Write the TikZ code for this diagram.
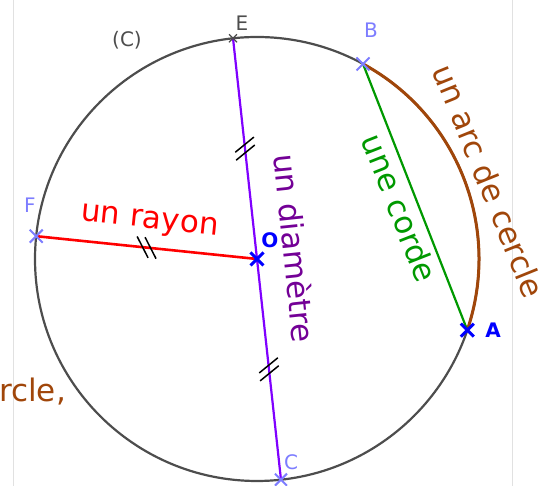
\documentclass[tikz,border=0pt]{standalone}
\usepackage{fontspec}
\setmainfont{DejaVu Sans}
\usetikzlibrary{calc}
\definecolor{circgray}{RGB}{77,77,77}
\definecolor{arcbrown}{RGB}{160,70,10}
\definecolor{chordgreen}{RGB}{0,153,0}
\definecolor{diamviolet}{RGB}{127,0,255}
\definecolor{diamtext}{RGB}{115,0,150}
\definecolor{radred}{RGB}{255,0,0}
\definecolor{ptlight}{RGB}{125,125,255}
\definecolor{ptblue}{RGB}{0,0,255}
\definecolor{edgegray}{RGB}{225,225,225}
\newcommand{\twoticks}[2]{%
  \path ($(#1)!0.5!(#2)$) coordinate (tkm);
  \foreach \s in {-4,4} {
    \path ($(tkm)!\s pt!(#2)$) coordinate (tkc);
    \draw[tickline] ($(tkc)!12pt!-57:(#2)$) -- ($(tkc)!12pt!123:(#2)$);
  }}
\newcommand{\xcross}[3]{% coordinate, half size, style
  \draw[#3] ($(#1)+(-#2,-#2)$) -- ($(#1)+(#2,#2)$)
            ($(#1)+(-#2,#2)$) -- ($(#1)+(#2,-#2)$);}
\begin{document}
\begin{tikzpicture}[x=1pt,y=1pt,
  circ/.style={draw=circgray, line width=2.2pt},
  arcline/.style={draw=arcbrown, line width=3pt},
  chordline/.style={draw=chordgreen, line width=2.2pt},
  diamline/.style={draw=diamviolet, line width=2.2pt},
  radline/.style={draw=radred, line width=2.6pt},
  tickline/.style={draw=black, line width=1.5pt},
  lightpt/.style={draw=ptlight, line width=2pt},
  bluept/.style={draw=ptblue, line width=3pt},
  graypt/.style={draw=circgray, line width=1.2pt},
  bigtext/.style={font=\fontsize{31}{37}\selectfont, inner sep=0pt},
  lbl/.style={font=\fontsize{20}{24}\selectfont, inner sep=0pt},
  lblb/.style={font=\fontsize{20}{24}\selectfont\bfseries, inner sep=0pt},
  edge/.style={draw=edgegray, line width=1pt}]
\useasboundingbox (0,0) rectangle (550,486);
% faint page edges
\coordinate (L1) at (13,0); \coordinate (L2) at (13,486);
\coordinate (R1) at (512,0); \coordinate (R2) at (512,486);
\draw[edge] (L1) -- (L2);
\draw[edge] (R1) -- (R2);
% points
\coordinate (O) at (257,227);
\coordinate (A) at ($(O)+(-18.68:222)$);
\coordinate (B) at ($(O)+(61.47:222)$);
\coordinate (E) at ($(O)+(96.2:222)$);
\coordinate (C) at ($(O)+(-83.8:222)$);
\coordinate (F) at ($(O)+(174.1:222)$);
% circle and arc
\draw[circ] (O) circle[radius=222];
\draw[arcline] (A) arc[start angle=-18.68, end angle=61.47, radius=222];
% segments
\draw[chordline] (B) -- (A);
\draw[diamline] (E) -- (C);
\draw[radline] (F) -- (O);
% equal-length ticks
\twoticks{F}{O}
\twoticks{E}{O}
\twoticks{C}{O}
% crosses
\xcross{F}{6.5}{lightpt}
\xcross{B}{6.5}{lightpt}
\xcross{C}{6}{lightpt}
\xcross{E}{4}{graypt}
\xcross{O}{6.5}{bluept}
\xcross{A}{6.5}{bluept}
% point labels
\node[lbl, text=circgray] (lE) at (242,463) {E};
\node[lbl, text=ptlight] (lB) at (371,456) {B};
\node[lbl, text=ptlight] (lF) at (30,281) {F};
\node[lblb, text=ptblue] (lO) at (270,246) {O};
\node[lblb, text=ptblue] (lA) at (493,156) {A};
\node[lbl, text=ptlight] (lC) at (291,24) {C};
\node[lbl, text=circgray] (lCC) at (127,446) {(C)};
% texts
\node[bigtext, text=radred, rotate=-6, anchor=base] (trayon) at (149,258) {un rayon};
\node[bigtext, text=diamtext, rotate=-84] (tdiam) at (295,238) {un diamètre};
\node[bigtext, text=chordgreen, rotate=-68.6] (tcorde) at (400,278) {une corde};
\node[bigtext, text=arcbrown, rotate=-68] (tarc) at (489,305) {un arc de cercle};
\node[bigtext, text=arcbrown, anchor=base west] (tcle) at (-1,84) {rcle,};
\end{tikzpicture}
\end{document}
